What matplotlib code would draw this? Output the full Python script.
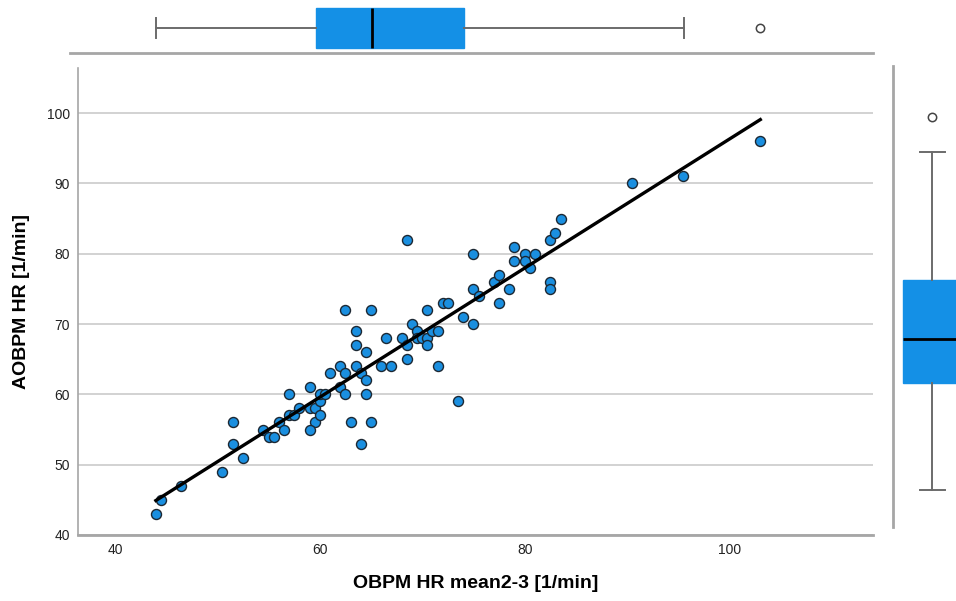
import numpy as np
import matplotlib
matplotlib.use("Agg")
import matplotlib.pyplot as plt

plt.rcParams['font.family'] = ['Liberation Sans', 'DejaVu Sans']

# OBPM HR mean2-3 (x) and AOBPM HR (y)
obpm_hr = [44.0, 44.5, 46.5, 50.5, 52.5, 51.5, 51.5, 54.5, 55.0, 55.5,
           56.0, 56.5, 57.0, 57.5, 57.0, 58.0, 59.0, 59.0, 59.5, 59.5,
           59.0, 60.0, 60.0, 60.0, 60.5, 61.0, 62.0,
           68.5, 62.5, 65.0, 70.5, 69.0, 69.5, 63.5, 66.5, 68.0, 69.5,
           70.0, 70.5, 71.0, 71.5, 68.5, 70.5, 63.5, 64.5, 68.5, 63.5,
           66.0, 67.0, 71.5, 62.5, 64.0, 64.5, 62.0, 62.5, 64.5, 63.0,
           65.0, 64.0, 73.5,
           72.0, 72.5, 74.0, 75.0, 75.0, 75.5, 75.0, 77.0, 77.5, 77.5,
           78.5, 79.0, 80.0, 81.0, 79.0, 80.0, 80.5, 82.5, 83.0, 83.5,
           82.5, 82.5, 90.5, 95.5, 103.0]
aobpm_hr = [43, 45, 47, 49, 51, 53, 56, 55, 54, 54,
            56, 55, 57, 57, 60, 58, 61, 58, 58, 56,
            55, 57, 59, 60, 60, 63, 64,
            82, 72, 72, 72, 70, 69, 69, 68, 68, 68,
            68, 68, 69, 69, 67, 67, 67, 66, 65, 64,
            64, 64, 64, 63, 63, 62, 61, 60, 60, 56,
            56, 53, 59,
            73, 73, 71, 70, 75, 74, 80, 76, 77, 73,
            75, 81, 80, 80, 79, 79, 78, 82, 83, 85,
            76, 75, 90, 91, 96]

# marginal boxplot statistics as shown in the picture
x_box = dict(whislo=44.0, q1=59.6, med=65.1, q3=74.05, whishi=95.6, fliers=[103.0])
y_box = dict(whislo=43.0, q1=58.2, med=64.4, q3=72.85, whishi=91.0, fliers=[96.0])

x_ticks = [40, 60, 80, 100]
y_ticks = [40, 50, 60, 70, 80, 90, 100]

x = np.array(obpm_hr)
y = np.array(aobpm_hr)

W, H = 956, 601
fig = plt.figure(figsize=(W / 100, H / 100), dpi=100)

def box(l, t, r, b):
    return [l / W, 1 - b / H, (r - l) / W, (b - t) / H]

blue = '#1490e6'
grid_grey = '#cfcfcf'
spine_grey = '#a6a6a6'

# main scatter
ax = fig.add_axes(box(78, 68, 873, 535))
ax.scatter(x, y, s=52, facecolor='#1a8fe0', edgecolor='#1c2833', linewidth=1, zorder=3)
k, c = np.polyfit(x, y, 1)
xl = np.array([x.min(), x.max()])
ax.plot(xl, k * xl + c, color='black', lw=2.4, zorder=4)
ax.set_xlim(36.4, 114)
ax.set_ylim(40, 106.4)
ax.set_xticks(x_ticks)
ax.set_yticks(y_ticks)
ax.tick_params(length=0, labelsize=10, colors='#222222', pad=6)
ax.yaxis.grid(True, color=grid_grey, lw=1.3)
ax.set_axisbelow(True)
for s in ['top', 'right']:
    ax.spines[s].set_visible(False)
ax.spines['left'].set_color(spine_grey)
ax.spines['left'].set_linewidth(1.2)
ax.spines['bottom'].set_color(spine_grey)
ax.spines['bottom'].set_linewidth(2)
ax.set_xlabel('OBPM HR mean2-3 [1/min]', fontsize=14, fontweight='bold', labelpad=13)
ax.set_ylabel('AOBPM HR [1/min]', fontsize=14, fontweight='bold', labelpad=12)

boxprops = dict(facecolor=blue, edgecolor=blue, linewidth=1)
medianprops = dict(color='black', linewidth=2)
whiskerprops = dict(color='#6b6b6b', linewidth=1.4)
flierprops = dict(marker='o', markersize=6, markerfacecolor='white',
                  markeredgecolor='#444444', markeredgewidth=1.1)

# top marginal boxplot
axt = fig.add_axes(box(70, 0, 873, 53))
axt.bxp([x_box], vert=False, positions=[0], widths=40, patch_artist=True,
        boxprops=boxprops, medianprops=medianprops,
        whiskerprops=whiskerprops, capprops=whiskerprops,
        flierprops=flierprops, capwidths=20)
axt.set_xlim(36.4 - 8 / 10.25, 114)
axt.set_ylim(-25, 28)
axt.set_xticks([])
axt.set_yticks([])
for s in ['top', 'right', 'left']:
    axt.spines[s].set_visible(False)
axt.spines['bottom'].set_color(spine_grey)
axt.spines['bottom'].set_linewidth(2)

# right marginal boxplot
axr = fig.add_axes(box(893, 66, 956, 527))
axr.bxp([y_box], vert=True, positions=[39], widths=58, patch_artist=True,
        boxprops=boxprops, medianprops=medianprops,
        whiskerprops=whiskerprops, capprops=whiskerprops,
        flierprops=flierprops, capwidths=25)
axr.set_xlim(0, 63)
axr.set_ylim(37.68, 103.25)
axr.set_xticks([])
axr.set_yticks([])
for s in ['top', 'right', 'bottom']:
    axr.spines[s].set_visible(False)
axr.spines['left'].set_color(spine_grey)
axr.spines['left'].set_linewidth(2)

fig.savefig('out.png', dpi=100)
